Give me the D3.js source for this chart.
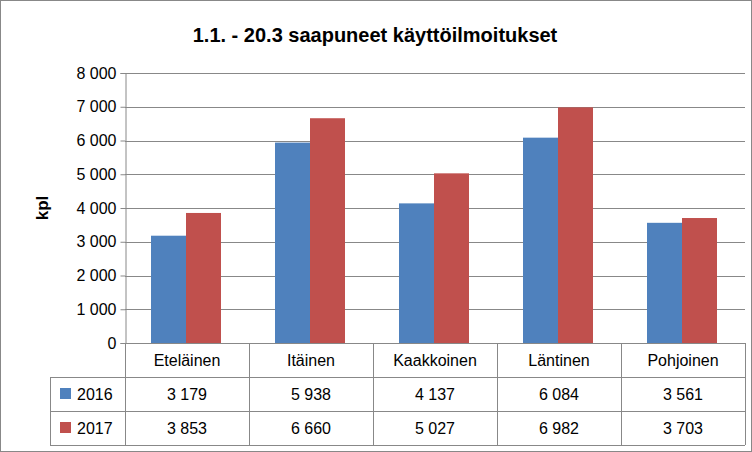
<!DOCTYPE html>
<html><head><meta charset="utf-8">
<script src="https://cdn.jsdelivr.net/npm/d3@7"></script>
<style>body{margin:0;background:#fff}svg{font-family:"Liberation Sans",Arial,sans-serif}</style>
</head><body><div id="chart"></div>
<script>
const categories = ["Eteläinen", "Itäinen", "Kaakkoinen", "Läntinen", "Pohjoinen"];
const seriesNames = ["2016", "2017"];
const values2016 = [3179, 5938, 4137, 6084, 3561];
const values2017 = [3853, 6660, 5027, 6982, 3703];
const yTicks = [0, 1000, 2000, 3000, 4000, 5000, 6000, 7000, 8000];
const colors = ["#4F81BD", "#C0504D"];

const W = 752, H = 452;
const plot = { left: 125, right: 745, top: 73, bottom: 343 };
const rowH = 34;
const fmt = v => d3.format(",")(v).replace(/,/g, "\u00a0");

const svg = d3.select("#chart").append("svg").attr("width", W).attr("height", H);
svg.append("rect").attr("x", 0.5).attr("y", 0.5).attr("width", W - 1).attr("height", H - 1)
  .attr("fill", "#fff").attr("stroke", "#888");

svg.append("text").attr("x", 375).attr("y", 42).attr("text-anchor", "middle")
  .attr("font-size", 20).attr("font-weight", "bold").text("1.1. - 20.3 saapuneet käyttöilmoitukset");

const x = d3.scaleBand().domain(categories).range([plot.left, plot.right]);
const xs = d3.scaleBand().domain(seriesNames).range([0, 70]);
const y = d3.scaleLinear().domain([0, 8000]).range([plot.bottom, plot.top]);

svg.append("g").selectAll("line").data(yTicks).join("line")
  .attr("x1", plot.left).attr("x2", plot.right)
  .attr("y1", d => Math.round(y(d)) + 0.5).attr("y2", d => Math.round(y(d)) + 0.5)
  .attr("stroke", "#888");

const yAxis = svg.append("g").attr("transform", `translate(${plot.left + 0.5},0)`)
  .call(d3.axisLeft(y).tickValues(yTicks).tickFormat(fmt).tickSize(5));
yAxis.select(".domain").attr("stroke", "#888");
yAxis.selectAll(".tick line").attr("stroke", "#888");
yAxis.selectAll("text").attr("font-size", 16).attr("fill", "#000").attr("x", -9);

svg.append("text").attr("transform", "translate(48,208) rotate(-90)").attr("text-anchor", "middle")
  .attr("font-size", 17).attr("font-weight", "bold").text("kpl");

const series = [values2016, values2017];
series.forEach((vals, si) => {
  svg.append("g").selectAll("rect").data(categories).join("rect")
    .attr("x", (c, i) => x(c) + x.bandwidth() / 2 - 36 + xs(seriesNames[si]))
    .attr("width", xs.bandwidth())
    .attr("y", (c, i) => y(vals[i]))
    .attr("height", (c, i) => y(0) - y(vals[i]))
    .attr("fill", colors[si]);
});

// data table
const tg = svg.append("g").attr("stroke", "#888").attr("shape-rendering", "crispEdges");
[0, 1, 2, 3].forEach(r => {
  tg.append("line").attr("x1", r === 0 ? plot.left : 50).attr("x2", plot.right)
    .attr("y1", plot.bottom + r * rowH).attr("y2", plot.bottom + r * rowH);
});
categories.concat([null]).forEach((c, i) => {
  const xx = c ? x(c) : plot.right;
  tg.append("line").attr("x1", xx).attr("x2", xx).attr("y1", plot.bottom).attr("y2", plot.bottom + 3 * rowH);
});
tg.append("line").attr("x1", 50).attr("x2", 50).attr("y1", plot.bottom + rowH).attr("y2", plot.bottom + 3 * rowH);

svg.append("g").selectAll("text").data(categories).join("text")
  .attr("x", c => x(c) + x.bandwidth() / 2).attr("y", plot.bottom + 23)
  .attr("text-anchor", "middle").attr("font-size", 16).text(c => c);

series.forEach((vals, si) => {
  const ry = plot.bottom + (si + 1) * rowH;
  svg.append("rect").attr("x", 60).attr("y", ry + 11).attr("width", 11).attr("height", 11).attr("fill", colors[si]);
  svg.append("text").attr("x", 77).attr("y", ry + 23).attr("font-size", 16).text(seriesNames[si]);
  svg.append("g").selectAll("text").data(categories).join("text")
    .attr("x", c => x(c) + x.bandwidth() / 2).attr("y", ry + 23)
    .attr("text-anchor", "middle").attr("font-size", 16).text((c, i) => fmt(vals[i]));
});
</script></body></html>
